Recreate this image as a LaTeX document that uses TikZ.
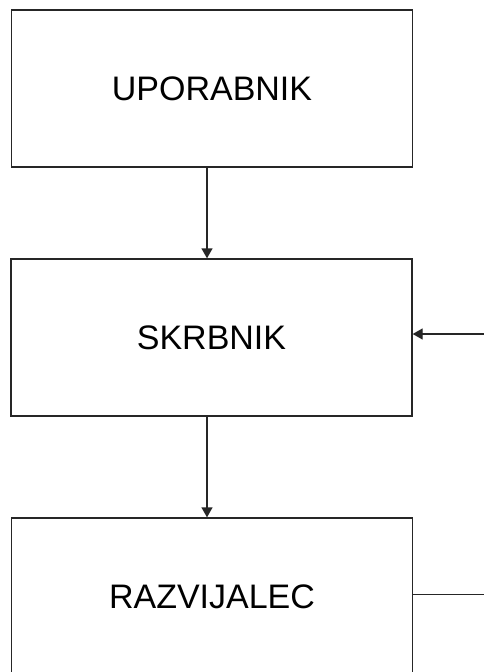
\documentclass[tikz,border=0pt]{standalone}
\usepackage{fontspec}
\setmainfont{Liberation Sans}
\usetikzlibrary{arrows.meta}
\begin{document}
\begin{tikzpicture}[x=1pt,y=-1pt,
  role/.style={draw=black!85, line width=1.3pt, fill=white,
    minimum width=401pt, minimum height=157pt, inner sep=0pt,
    font=\fontsize{34}{40}\selectfont},
  link/.style={draw=black!85, line width=1.3pt},
  flow/.style={link, -{Triangle[width=11pt,length=10pt]}}]
  \useasboundingbox (0,0) rectangle (484,672);
  \clip (0,0) rectangle (484,672);
  % three stacked roles
  \node[role] (uporabnik)  at (212,88.5)  {UPORABNIK};
  \node[role] (skrbnik)    at (211.5,337.5) {SKRBNIK};
  \node[role] (razvijalec) at (212,596.5) {RAZVIJALEC};
  % free ends at the right margin
  \coordinate (vhod)  at (486,334);
  \coordinate (izhod) at (486,594.3);
  % connectors
  \draw[flow] (uporabnik.south -| 207,0) -- (skrbnik.north -| 207,0);
  \draw[flow] (skrbnik.south -| 207,0) -- (razvijalec.north -| 207,0);
  \draw[flow] (vhod) -- (skrbnik.east |- vhod);
  \draw[link] (razvijalec.east |- izhod) -- (izhod);
\end{tikzpicture}
\end{document}
